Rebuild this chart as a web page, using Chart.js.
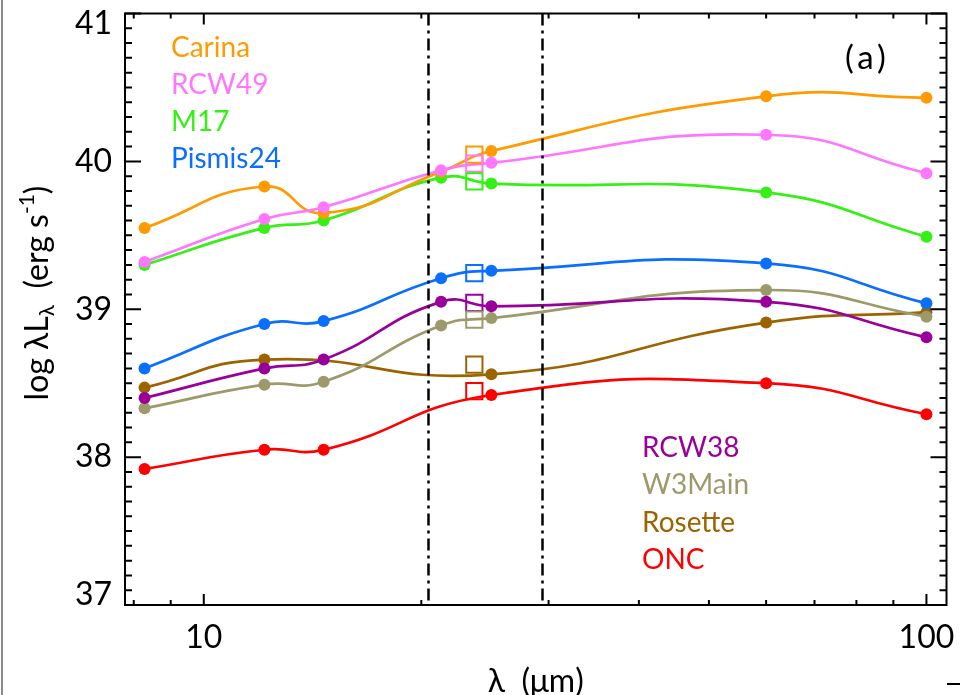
<!DOCTYPE html>
<html>
<head>
<meta charset="utf-8">
<script src="https://cdn.jsdelivr.net/npm/chart.js@4"></script>
<style>
  html, body { margin: 0; padding: 0; background: #fff; }
  #wrap { width: 960px; height: 695px; }
</style>
</head>
<body>
<div id="wrap"><canvas id="myChart" width="960" height="695"></canvas></div>
<script>
// wavelengths of the photometric bands (micron)
const wavelengths = [8.28, 12.13, 14.65, 21.3, 25, 60, 100];

const regions = ["Carina", "RCW49", "M17", "Pismis24", "RCW38", "W3Main", "Rosette", "ONC"];
const colors = ["#ff9a00", "#ff77ff", "#35f014", "#0a6eff", "#99009a", "#9c9a6b", "#9c6400", "#ff0000"];

// log lambda L_lambda (erg/s), null = no measurement
const carina   = [39.55, 39.83, 39.65, 39.93, 40.07, 40.44, 40.43];
const rcw49    = [39.32, 39.61, 39.69, 39.94, 39.99, 40.18, 39.92];
const m17      = [39.30, 39.55, 39.60, 39.89, 39.85, 39.79, 39.49];
const pismis24 = [38.60, 38.90, 38.92, 39.21, 39.26, 39.31, 39.04];
const rcw38    = [38.40, 38.60, 38.66, 39.05, 39.02, 39.05, 38.81];
const w3main   = [38.33, 38.49, 38.51, 38.89, 38.94, 39.13, 38.95];
const rosette  = [38.47, 38.66, null,  null,  38.56, 38.91, 38.98];
const onc      = [37.92, 38.05, 38.05, null,  38.42, 38.50, 38.29];
const series = [carina, rcw49, m17, pismis24, rcw38, w3main, rosette, onc];

// 24 micron values (open squares)
const mipsWave = 23.68;
const mipsValues = [40.045, 39.984, 39.865, 39.245, 39.043, 38.93, 38.626, 38.446];

// dash-dot band limits
const bandEdges = [20.4, 29.4];

const xTickLabels = [10, 100];
const xMinorTicks = [8, 9, 20, 30, 40, 50, 60, 70, 80, 90];
const yTickLabels = [37, 38, 39, 40, 41];

// drawing order: pink on top, then orange, ...
const drawOrder = [1, 0, 2, 3, 4, 5, 6, 7];

const FONT = "Lato, 'DejaVu Sans', sans-serif";

var datasets = series.map(function (vals, i) {
  var pts = [];
  vals.forEach(function (v, j) {
    if (v !== null) pts.push({ x: wavelengths[j], y: v });
  });
  return {
    label: regions[i],
    data: pts,
    borderColor: colors[i],
    backgroundColor: colors[i],
    borderWidth: 2.7,
    pointRadius: 6,
    pointBorderWidth: 0,
    pointBackgroundColor: colors[i],
    tension: 0.5,
    fill: false,
    order: drawOrder[i] + 1
  };
});

datasets.push({
  type: "scatter",
  label: "24um",
  data: mipsValues.map(function (v) { return { x: mipsWave, y: v }; }),
  pointStyle: "rect",
  pointRadius: 11.5,
  pointBorderWidth: 2,
  pointBorderColor: colors,
  pointBackgroundColor: "rgba(0,0,0,0)",
  showLine: false,
  order: 0
});

const framePlugin = {
  id: "frame",
  afterDatasetsDraw: function (chart) {
    var ctx = chart.ctx;
    var a = chart.chartArea;
    var xs = chart.scales.x, ys = chart.scales.y;
    ctx.save();

    // dash-dot lines
    ctx.strokeStyle = "#000";
    ctx.lineWidth = 2.5;
    ctx.setLineDash([12, 5, 3, 5]);
    bandEdges.forEach(function (w) {
      var px = Math.round(xs.getPixelForValue(w)) + 0.5;
      ctx.beginPath();
      ctx.moveTo(px, a.top);
      ctx.lineTo(px, a.bottom);
      ctx.stroke();
    });
    ctx.setLineDash([]);

    // frame
    ctx.lineWidth = 2;
    ctx.strokeRect(a.left, a.top, a.right - a.left, a.bottom - a.top);

    // x ticks (inward, bottom and top)
    function xTick(w, len) {
      var px = xs.getPixelForValue(w);
      ctx.beginPath();
      ctx.moveTo(px, a.bottom); ctx.lineTo(px, a.bottom - len);
      ctx.moveTo(px, a.top); ctx.lineTo(px, a.top + len);
      ctx.stroke();
    }
    xTickLabels.forEach(function (w) { xTick(w, 11); });
    xMinorTicks.forEach(function (w) { xTick(w, 5); });

    // y ticks every 0.1
    for (var k = 0; k <= 40; k++) {
      var v = 37 + k / 10;
      var py = ys.getPixelForValue(v);
      var len = (k % 10 === 0) ? 16 : 7;
      ctx.beginPath();
      ctx.moveTo(a.left, py); ctx.lineTo(a.left + len, py);
      ctx.moveTo(a.right, py); ctx.lineTo(a.right - len, py);
      ctx.stroke();
    }

    // region labels
    ctx.font = "28px " + FONT;
    ctx.textAlign = "left";
    ctx.textBaseline = "alphabetic";
    regions.forEach(function (name, i) {
      ctx.fillStyle = colors[i];
      if (i < 4) ctx.fillText(name, 171, 57 + i * 37);
      else ctx.fillText(name, 642, 457 + (i - 4) * 37.4);
    });

    // panel label
    ctx.fillStyle = "#000";
    ctx.font = "33px " + FONT;
    ctx.letterSpacing = "4px";
    ctx.fillText("(a)", 845, 69);
    ctx.letterSpacing = "0px";

    // y title with sub/superscripts
    var big = "32px " + FONT, small = "21px " + FONT;
    var parts = [
      { t: "log \u03bbL", f: big, dy: 0 },
      { t: "\u03bb", f: small, dy: 6 },
      { t: "  (erg s", f: big, dy: 0 },
      { t: "-1", f: small, dy: -14 },
      { t: ")", f: big, dy: 0 }
    ];
    var total = 0;
    parts.forEach(function (p) { ctx.font = p.f; p.w = ctx.measureText(p.t).width; total += p.w; });
    ctx.translate(48, 293);
    ctx.rotate(-Math.PI / 2);
    var cx = -total / 2;
    parts.forEach(function (p) {
      ctx.font = p.f;
      ctx.fillText(p.t, cx, p.dy);
      cx += p.w;
    });
    ctx.restore();

    // page edge marks
    ctx.save();
    ctx.strokeStyle = "#8a8a8a";
    ctx.lineWidth = 2;
    ctx.beginPath(); ctx.moveTo(2, 0); ctx.lineTo(2, 695); ctx.stroke();
    ctx.strokeStyle = "#000";
    ctx.beginPath(); ctx.moveTo(947, 684); ctx.lineTo(960, 684); ctx.stroke();
    ctx.restore();
  }
};

new Chart("myChart", {
  type: "line",
  data: { datasets: datasets },
  options: {
    responsive: false,
    animation: false,
    layout: { padding: { left: 0, right: 11, top: 12, bottom: 0 } },
    plugins: {
      legend: { display: false },
      tooltip: { enabled: false }
    },
    scales: {
      x: {
        type: "logarithmic",
        min: 7.78,
        max: 106.6,
        grid: { display: false, drawTicks: false },
        border: { display: false },
        afterBuildTicks: function (s) { s.ticks = xTickLabels.map(function (v) { return { value: v }; }); },
        afterFit: function (s) { s.height = 90; s.paddingLeft = 0; s.paddingRight = 0; },
        ticks: {
          autoSkip: false,
          maxRotation: 0,
          padding: 13,
          color: "#000",
          font: { family: FONT, size: 32 },
          callback: function (v) { return String(v); }
        },
        title: {
          display: true,
          text: "\u03bb  (\u03bcm)",
          color: "#000",
          font: { family: FONT, size: 32 },
          padding: { top: 0, bottom: -6 }
        }
      },
      y: {
        type: "linear",
        min: 37,
        max: 41,
        grid: { display: false, drawTicks: false },
        border: { display: false },
        afterBuildTicks: function (s) { s.ticks = yTickLabels.map(function (v) { return { value: v }; }); },
        afterFit: function (s) { s.width = 125; s.paddingTop = 0; s.paddingBottom = 0; },
        ticks: {
          padding: 13,
          color: "#000",
          font: { family: FONT, size: 32, lineHeight: 0.66 },
          callback: function (v) {
            if (v === 41) return ["", "41"];
            if (v === 37) return ["37", ""];
            return String(v);
          }
        }
      }
    }
  },
  plugins: [framePlugin]
});
</script>
</body>
</html>
